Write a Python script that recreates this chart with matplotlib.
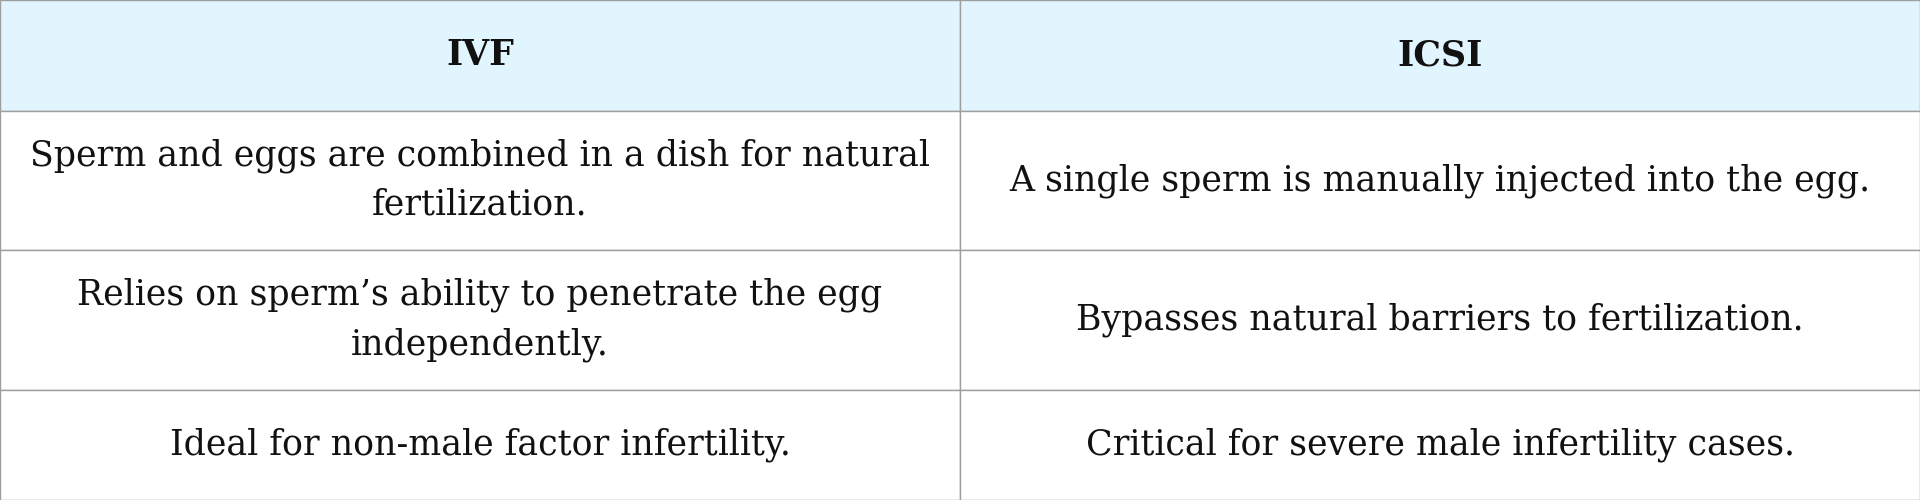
import matplotlib.pyplot as plt
from matplotlib.patches import Rectangle

headers = ['IVF', 'ICSI']
rows = [
    ['Sperm and eggs are combined in a dish for natural\nfertilization.',
     'A single sperm is manually injected into the egg.'],
    ['Relies on sperm\u2019s ability to penetrate the egg\nindependently.',
     'Bypasses natural barriers to fertilization.'],
    ['Ideal for non-male factor infertility.',
     'Critical for severe male infertility cases.'],
]
# row heights as fractions of the figure height (header first)
row_heights = [0.221, 0.279, 0.279, 0.221]

fig = plt.figure(figsize=(19.2, 5), dpi=100)
ax = fig.add_axes([0, 0, 1, 1])
ax.set_xlim(0, 1)
ax.set_ylim(1, 0)
ax.axis('off')

border = '#9e9e9e'
col_w = 1 / len(headers)
y = 0.0
all_rows = [headers] + rows
for r, (cells, h) in enumerate(zip(all_rows, row_heights)):
    for c, txt in enumerate(cells):
        x = c * col_w
        face = '#e1f5fe' if r == 0 else 'white'
        ax.add_patch(Rectangle((x, y), col_w, h, facecolor=face,
                               edgecolor=border, linewidth=1.0))
        ax.text(x + col_w / 2, y + h / 2, txt, ha='center', va='center',
                fontsize=25, family='DejaVu Serif', color='#111111',
                fontweight='bold' if r == 0 else 'normal', linespacing=1.55)
    y += h

fig.savefig('out.png', dpi=100)
